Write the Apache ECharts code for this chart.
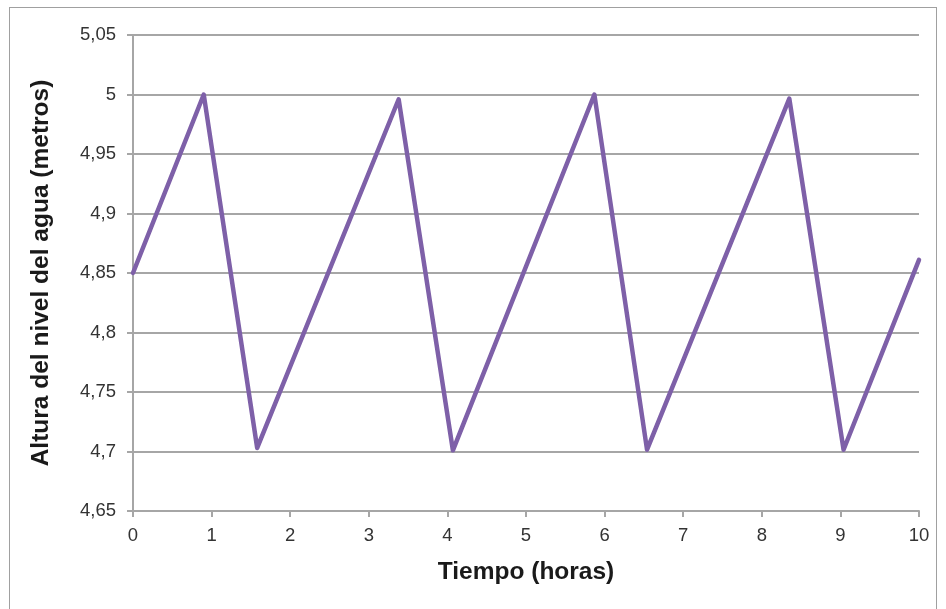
<!DOCTYPE html>
<html>
<head>
<meta charset="utf-8">
<script src="https://cdn.jsdelivr.net/npm/echarts@6/dist/echarts.min.js"></script>
<style>
  html, body { margin: 0; padding: 0; background: #fff; }
  #frame { position: absolute; left: 9px; top: 7px; width: 928px; height: 620px; border: 1px solid #a0a0a0; box-sizing: border-box; }
  #chart { position: absolute; left: 0; top: 0; width: 946px; height: 609px; }
</style>
</head>
<body>
<div id="frame"></div>
<div id="chart"></div>
<script>
// Water level over time: sawtooth of slow fills and quick drains
const hours  = [0, 0.90, 1.58, 3.38, 4.07, 5.87, 6.54, 8.35, 9.04, 10];
const levels = [4.85, 5.0, 4.703, 4.996, 4.701, 5.0, 4.7015, 4.9966, 4.7015, 4.861];
const xTicks = [0, 10, 1];           // min, max, interval
const yTicks = [4.65, 5.05, 0.05];   // min, max, interval

const xAxisTitle = 'Tiempo (horas)';
const yAxisTitle = 'Altura del nivel del agua (metros)';

const gridColor = '#a6a6a6';
const font = '"Liberation Sans", Arial, sans-serif';

const chart = echarts.init(document.getElementById('chart'), null, { renderer: 'canvas' });
chart.setOption({
  animation: false,
  grid: { left: 133, right: 27, top: 35, bottom: 98, containLabel: false },
  xAxis: {
    type: 'value',
    min: xTicks[0], max: xTicks[1], interval: xTicks[2],
    name: xAxisTitle,
    nameLocation: 'middle',
    nameGap: 49,
    nameTextStyle: { fontFamily: font, fontWeight: 'bold', fontSize: 24.5, color: '#1a1a1a' },
    axisLine: { lineStyle: { color: gridColor, width: 2 } },
    axisTick: { show: true, length: 6, lineStyle: { color: gridColor, width: 2 } },
    axisLabel: { fontFamily: font, fontSize: 18.5, color: '#333', margin: 15 },
    splitLine: { show: false }
  },
  yAxis: {
    type: 'value',
    min: yTicks[0], max: yTicks[1], interval: yTicks[2],
    name: yAxisTitle,
    nameLocation: 'middle',
    nameGap: 79,
    nameRotate: 90,
    nameTextStyle: { fontFamily: font, fontWeight: 'bold', fontSize: 24.5, color: '#1a1a1a' },
    axisLine: { show: true, lineStyle: { color: gridColor, width: 2 } },
    axisTick: { show: true, inside: false, length: 6, lineStyle: { color: gridColor, width: 2 } },
    axisLabel: {
      fontFamily: font, fontSize: 18.5, color: '#333', margin: 17,
      formatter: v => String(Math.round(v * 100) / 100).replace('.', ',')
    },
    splitLine: { show: true, lineStyle: { color: gridColor, width: 2 } }
  },
  series: [{
    type: 'line',
    data: hours.map((h, i) => [h, levels[i]]),
    showSymbol: false,
    smooth: false,
    lineStyle: { color: '#7e60a8', width: 4.5, cap: 'round', join: 'round' },
    itemStyle: { color: '#7e60a8' }
  }]
});
</script>
</body>
</html>
